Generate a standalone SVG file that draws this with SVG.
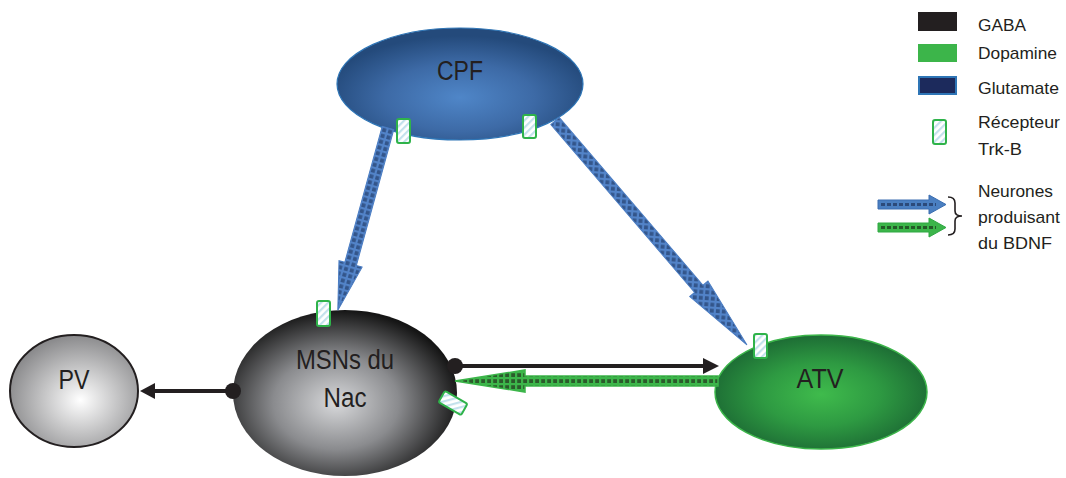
<svg xmlns="http://www.w3.org/2000/svg" width="1066" height="478" viewBox="0 0 1066 478">
<defs>
<style>
.t{font-family:"Liberation Sans",Arial,sans-serif;fill:#231f20}
.lg{font-size:17px}
.nd{font-size:27px}
.rec{fill:url(#stripe);stroke:#2fb34a;stroke-width:2}
.blk{stroke:#231f20;stroke-width:4;fill:none}
</style>
<radialGradient id="gCPF" cx="50%" cy="62%" r="55%">
<stop offset="0" stop-color="#4f86c8"/><stop offset="0.55" stop-color="#3d6aa6"/><stop offset="1" stop-color="#244a7b"/>
</radialGradient>
<radialGradient id="gMSN" cx="46%" cy="56%" r="56%">
<stop offset="0" stop-color="#d8d9db"/><stop offset="0.5" stop-color="#8a8b8e"/><stop offset="1" stop-color="#151515"/>
</radialGradient>
<radialGradient id="gPV" cx="55%" cy="58%" r="58%">
<stop offset="0" stop-color="#ffffff"/><stop offset="1" stop-color="#8a8a8c"/>
</radialGradient>
<radialGradient id="gATV" cx="50%" cy="52%" r="55%">
<stop offset="0" stop-color="#3fbb4c"/><stop offset="0.5" stop-color="#2e9a42"/><stop offset="1" stop-color="#1b6733"/>
</radialGradient>
<pattern id="stripe" width="5" height="5" patternUnits="userSpaceOnUse" patternTransform="rotate(45)">
<rect width="5" height="5" fill="#ffffff"/><rect width="2.2" height="5" fill="#c3e1ec"/>
</pattern>
<pattern id="bgrid" width="6" height="6" patternUnits="userSpaceOnUse">
<rect width="6" height="6" fill="#5283c8"/><rect x="1.2" y="1.2" width="3.8" height="3.8" fill="#33558a"/>
</pattern>
<pattern id="bgrid45" width="6" height="6" patternUnits="userSpaceOnUse" patternTransform="rotate(45)">
<rect width="6" height="6" fill="#5283c8"/><rect x="1.2" y="1.2" width="3.8" height="3.8" fill="#33558a"/>
</pattern>
<pattern id="ggrid" width="6" height="6" patternUnits="userSpaceOnUse">
<rect width="6" height="6" fill="#3cb54a"/><rect x="1.2" y="1.2" width="3.8" height="3.8" fill="#2b5b2b"/>
</pattern>
</defs>
<rect width="1066" height="478" fill="#ffffff"/>

<g id="node-PV">
<ellipse cx="74" cy="391" rx="64" ry="56" fill="url(#gPV)" stroke="#231f20" stroke-width="2"/>
<text class="t nd" x="74" y="389" text-anchor="middle" textLength="31" lengthAdjust="spacingAndGlyphs">PV</text>
</g>
<g id="node-MSN">
<ellipse cx="345" cy="393" rx="112" ry="83" fill="url(#gMSN)"/>
<text class="t nd" x="345" y="369" text-anchor="middle" textLength="98" lengthAdjust="spacingAndGlyphs">MSNs du</text>
<text class="t nd" x="345" y="407" text-anchor="middle" textLength="43" lengthAdjust="spacingAndGlyphs">Nac</text>
</g>
<g id="node-ATV">
<ellipse cx="821" cy="392" rx="106" ry="57" fill="url(#gATV)" stroke="#3cb54a" stroke-width="1.5"/>
<text class="t nd" x="820" y="388" text-anchor="middle" textLength="47" lengthAdjust="spacingAndGlyphs">ATV</text>
</g>
<g id="node-CPF">
<ellipse cx="460" cy="84" rx="123" ry="56" fill="url(#gCPF)" stroke="#2e75b6" stroke-width="1.2"/>
<text class="t nd" x="460" y="80" text-anchor="middle" textLength="46" lengthAdjust="spacingAndGlyphs">CPF</text>
</g>

<g id="connectors">
<polygon transform="translate(388,128) rotate(105.4)" points="0,-6 141,-6 141,-12 189,0 141,12 141,6 0,6" fill="url(#bgrid)" stroke="#4a7cc2" stroke-width="1"/>
<polygon transform="translate(555,121) rotate(49.4)" points="0,-5.5 221,-5.5 221,-12 295,0 221,12 221,5.5 0,5.5" fill="url(#bgrid45)" stroke="#4a7cc2" stroke-width="1"/>
<polygon points="718,376 525,376 525,370 455,381 525,392 525,386 718,386" fill="url(#ggrid)" stroke="#3cb54a" stroke-width="1.5"/>
<line class="blk" x1="455" y1="366" x2="706" y2="366"/>
<polygon points="703,358 719,366 703,374" fill="#231f20"/>
<circle cx="455" cy="366" r="8" fill="#231f20"/>
<line class="blk" x1="233" y1="391" x2="152" y2="391"/>
<polygon points="155,383 140,391 155,399" fill="#231f20"/>
<circle cx="233" cy="391" r="8" fill="#231f20"/>
</g>

<g id="receptors">
<rect class="rec" x="397" y="119" width="13" height="24" rx="2"/>
<rect class="rec" x="523" y="115" width="13" height="23" rx="2"/>
<rect class="rec" x="317" y="301" width="13" height="25" rx="2"/>
<rect class="rec" x="754" y="334" width="13" height="24" rx="2"/>
<rect class="rec" x="-13" y="-6.5" width="26" height="13" rx="2" transform="translate(453,403) rotate(30)"/>
</g>

<g id="legend">
<rect x="918" y="12" width="39" height="19" fill="#231f20"/>
<text class="t lg" x="978" y="31" textLength="48" lengthAdjust="spacingAndGlyphs">GABA</text>
<rect x="918" y="44" width="39" height="18" fill="#3cb54a"/>
<text class="t lg" x="978" y="59" textLength="79" lengthAdjust="spacingAndGlyphs">Dopamine</text>
<rect x="919" y="77" width="37" height="17" fill="#1c2a5c" stroke="#2e75b6" stroke-width="2"/>
<text class="t lg" x="978" y="94" textLength="81" lengthAdjust="spacingAndGlyphs">Glutamate</text>
<rect class="rec" x="933" y="120" width="13" height="24" rx="2"/>
<text class="t lg" x="978" y="128" textLength="82" lengthAdjust="spacingAndGlyphs">Récepteur</text>
<text class="t lg" x="978" y="155" textLength="44" lengthAdjust="spacingAndGlyphs">Trk-B</text>
<polygon points="878,200 929,200 929,195 946,204.5 929,214 929,209 878,209" fill="#4a7fc1" stroke="#3a6db0" stroke-width="1"/>
<line x1="881" y1="204.5" x2="936" y2="204.5" stroke="#2c4a7a" stroke-width="3" stroke-dasharray="4 2"/>
<polygon points="878,223 929,223 929,218 946,227.5 929,237 929,232 878,232" fill="#3cb54a" stroke="#2fa843" stroke-width="1"/>
<line x1="881" y1="227.5" x2="936" y2="227.5" stroke="#245a28" stroke-width="3" stroke-dasharray="4 2"/>
<path d="M948,197 Q955,197 955,203 L955,211 Q955,216 962,216 Q955,216 955,221 L955,229 Q955,235 948,235" fill="none" stroke="#231f20" stroke-width="1.6"/>
<text class="t lg" x="978" y="197" textLength="75" lengthAdjust="spacingAndGlyphs">Neurones</text>
<text class="t lg" x="978" y="223" textLength="82" lengthAdjust="spacingAndGlyphs">produisant</text>
<text class="t lg" x="978" y="249" textLength="74" lengthAdjust="spacingAndGlyphs">du BDNF</text>
</g>
</svg>
